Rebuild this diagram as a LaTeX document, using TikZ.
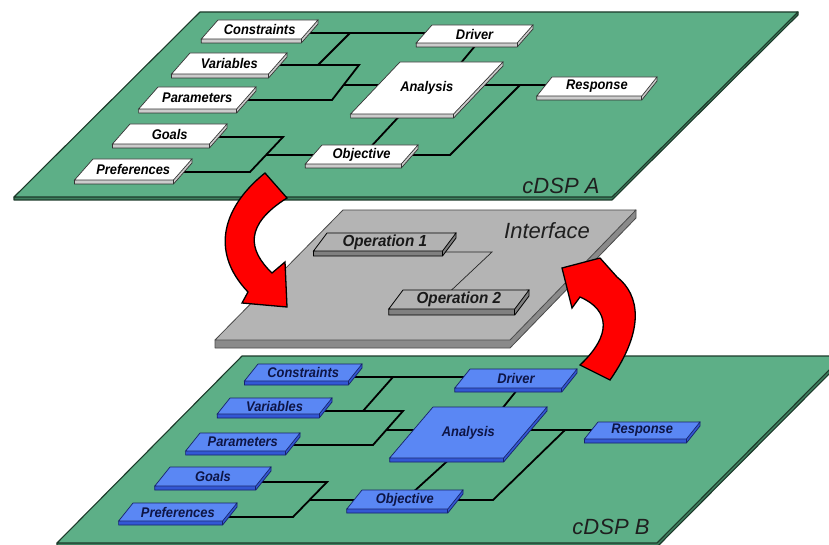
\documentclass[tikz,border=0pt]{standalone}
\usepackage{fontspec}
\newfontfamily\lab{Liberation Sans}
\usetikzlibrary{calc}
\pgfdeclarelayer{planes}
\pgfdeclarelayer{links}
\pgfdeclarelayer{front}
\pgfsetlayers{planes,links,main,front}

\definecolor{planetop}{HTML}{5DAF87}
\definecolor{planeside}{HTML}{3F7F5F}
\definecolor{planeedge}{HTML}{1C3A2A}
\definecolor{ifacetop}{HTML}{B4B4B4}
\definecolor{ifaceside}{HTML}{8A8A8A}
\definecolor{ifaceedge}{HTML}{4A4A4A}
\definecolor{bluetop}{HTML}{5A87F4}
\definecolor{blueside}{HTML}{3357D4}
\definecolor{blueedge}{HTML}{16226A}
\definecolor{bluetext}{HTML}{0E1545}

\tikzset{
  wbox top/.style={fill=white,draw=black!80,line width=0.7pt},
  wbox side/.style={fill=black!20,draw=black!80,line width=0.7pt},
  wbox text/.style={font=\lab\fontsize{14}{16}\selectfont\bfseries\itshape,text=black,xscale=0.92,inner sep=0pt},
  bbox top/.style={fill=bluetop,draw=blueedge,line width=0.7pt},
  bbox side/.style={fill=blueside,draw=blueedge,line width=0.7pt},
  bbox text/.style={font=\lab\fontsize{14}{16}\selectfont\bfseries\itshape,text=bluetext,xscale=0.92,inner sep=0pt},
  obox top/.style={fill=black!30,draw=black,line width=0.8pt},
  obox side/.style={fill=black!50,draw=black,line width=0.8pt},
  obox text/.style={font=\lab\fontsize{16}{18}\selectfont\bfseries\itshape,text=black!90,xscale=0.95,inner sep=0pt},
  plane top/.style={fill=planetop,draw=planeedge,line width=1.1pt,line join=round},
  plane side/.style={fill=planeside,draw=planeedge,line width=1.1pt,line join=round},
  iface top/.style={fill=ifacetop,draw=ifaceedge,line width=0.8pt,line join=round},
  iface side/.style={fill=ifaceside,draw=ifaceedge,line width=0.8pt,line join=round},
  plane label/.style={font=\lab\fontsize{22}{24}\selectfont\itshape,text=black!88,inner sep=0pt},
  link/.style={line width=1.8pt,black},
  thin link/.style={line width=0.7pt,black!85},
  bigarrow/.style={fill=red,draw=black,line width=1.3pt,line join=miter}
}

% slab-shaped box: name, kind, top-left x, top y, width, height, slope, label, thickness
\newcommand\slabbox[9]{%
  \pgfmathsetmacro\sbL{#3-#7*#6}%
  \pgfmathsetmacro\sbR{\sbL+#5}%
  \pgfmathsetmacro\sbB{#4+#6}%
  \pgfmathsetmacro\sbD{\sbB+#9}%
  \pgfmathsetmacro\sbE{#3+#5}%
  \pgfmathsetmacro\sbF{#4+#9}%
  \filldraw[#2 side] (\sbL,\sbB) -- (\sbL,\sbD) -- (\sbR,\sbD) -- (\sbE,\sbF) -- (\sbE,#4) -- cycle;
  \draw[#2 side] (\sbR,\sbB) -- (\sbR,\sbD);
  \filldraw[#2 top] (#3,#4) -- (\sbE,#4) -- (\sbR,\sbB) -- (\sbL,\sbB) -- cycle;
  \pgfmathsetmacro\sbX{#3+#5/2-#7*#6/2}%
  \pgfmathsetmacro\sbY{#4+#6/2}%
  \node[#2 text] (#1) at (\sbX,\sbY) {#8};
}

\begin{document}
\begin{tikzpicture}[x=1pt,y=-1pt]
\useasboundingbox (0,0) rectangle (829,545);

% ---------- the three planes ----------
\begin{pgfonlayer}{planes}
  % cDSP A
  \filldraw[plane side] (14,197) -- (14,200) -- (612,200) -- (798,15) -- (798,12) -- cycle;
  \filldraw[plane top] (200,12) -- (798,12) -- (612,197) -- (14,197) -- cycle;
  % Interface slab
  \filldraw[iface side] (215,340) -- (215,348) -- (510,348) -- (636,218) -- (636,210) -- cycle;
  \filldraw[iface top] (343,210) -- (636,210) -- (510,340) -- (215,340) -- cycle;
  % cDSP B
  \begin{scope}
    \clip (0,0) rectangle (829,545);
    \filldraw[plane side] (57,543) -- (57,547) -- (657,547) -- (843,360) -- (843,356) -- cycle;
    \filldraw[plane top] (242,356) -- (843,356) -- (657,543) -- (57,543) -- cycle;
  \end{scope}
\end{pgfonlayer}

\node[plane label] (lblA) at (561,186) {cDSP A};
\node[plane label] (lblI) at (547,231) {Interface};
\node[plane label] (lblB) at (611,527) {cDSP B};

% ---------- cDSP A boxes ----------
\slabbox{aCons}{wbox}{218}{20}{100}{19}{0.88}{Constraints}{4}
\slabbox{aVar}{wbox}{190}{53}{97}{21}{0.88}{Variables}{4}
\slabbox{aPar}{wbox}{158}{87}{98}{22}{0.88}{Parameters}{4}
\slabbox{aGoal}{wbox}{130}{124}{97}{20}{0.88}{Goals}{4}
\slabbox{aPref}{wbox}{93}{159}{99}{21}{0.88}{Preferences}{4}
\slabbox{aObj}{wbox}{322}{145}{96}{19}{0.88}{Objective}{4}
\slabbox{aDrv}{wbox}{432}{25}{101}{18}{0.88}{Driver}{4}
\slabbox{aAna}{wbox}{400}{62}{103}{52}{0.95}{Analysis}{4}
\slabbox{aResp}{wbox}{552}{77}{105}{19}{0.8}{Response}{4}

% ---------- Interface boxes ----------
\slabbox{op1}{obox}{327}{233}{129}{18}{0.75}{Operation 1}{5}
\slabbox{op2}{obox}{403}{290}{126}{19}{0.75}{Operation 2}{6}

% ---------- cDSP B boxes ----------
\slabbox{bCons}{bbox}{258}{364}{104}{17}{0.8}{Constraints}{4}
\slabbox{bVar}{bbox}{230}{398}{102}{16}{0.8}{Variables}{4}
\slabbox{bPar}{bbox}{200}{433}{100}{18}{0.8}{Parameters}{4}
\slabbox{bGoal}{bbox}{170}{467}{101}{19}{0.8}{Goals}{4}
\slabbox{bPref}{bbox}{133}{503}{104}{18}{0.8}{Preferences}{4}
\slabbox{bObj}{bbox}{362}{490}{101}{19}{0.8}{Objective}{4}
\slabbox{bAna}{bbox}{433}{407}{114}{51}{0.85}{Analysis}{4}
\slabbox{bDrv}{bbox}{470}{369}{107}{19}{0.8}{Driver}{4}
\slabbox{bResp}{bbox}{598}{422}{102}{17}{0.8}{Response}{4}

% ---------- junction points ----------
\coordinate (j1) at (350,33);
\coordinate (j2) at (318,65);
\coordinate (j3) at (359,65);
\coordinate (j4) at (332,100);
\coordinate (j6) at (283,137);
\coordinate (j7) at (250,172);
\coordinate (j9) at (480,40);
\coordinate (j10) at (455,70);
\coordinate (j11) at (520,85);
\coordinate (j12) at (450,155);
\coordinate (j13) at (405,110);
\coordinate (j14) at (366,152);

\coordinate (m1) at (492,252);
\coordinate (m2) at (441,300);

\coordinate (k1) at (393,377);
\coordinate (k2) at (363,411);
\coordinate (k3) at (403,411);
\coordinate (k4) at (373,445);
\coordinate (k6) at (327,482);
\coordinate (k7) at (293,517);
\coordinate (k9) at (565,430);
\coordinate (k10) at (493,500);
\coordinate (k11) at (521,385);
\coordinate (k12) at (497,415);
\coordinate (k13) at (454,455);
\coordinate (k14) at (410,495);

% ---------- connectors ----------
\begin{pgfonlayer}{links}
  % cDSP A
  \draw[link] (aCons.center |- j1) -- (aDrv.center |- j1);
  \draw[link] (j1) -- (j2);
  \draw[link] (aVar.center |- j3) -- (j3) -- (j4) -- (aPar.center |- j4);
  \coordinate (j5) at ($(j3)!0.571!(j4)$);
  \draw[link] (j5) -- (aAna.center |- j5);
  \draw[link] (aGoal.center |- j6) -- (j6) -- (j7) -- (aPref.center |- j7);
  \coordinate (j8) at ($(j6)!0.514!(j7)$);
  \draw[link] (j8) -- (aObj.center |- j8);
  \draw[link] (j9) -- (j10);
  \draw[link] (j13) -- (j14);
  \draw[link] (aAna.center |- j11) -- (aResp.center |- j11);
  \draw[link] (j11) -- (j12) -- (aObj.center |- j12);
  % Interface
  \draw[thin link] (op1.center |- m1) -- (m1) -- (m2);
  % cDSP B
  \draw[link] (bCons.center |- k1) -- (bDrv.center |- k1);
  \draw[link] (k1) -- (k2);
  \draw[link] (bVar.center |- k3) -- (k3) -- (k4) -- (bPar.center |- k4);
  \coordinate (k5) at ($(k3)!0.559!(k4)$);
  \draw[link] (k5) -- (bAna.center |- k5);
  \draw[link] (bGoal.center |- k6) -- (k6) -- (k7) -- (bPref.center |- k7);
  \coordinate (k8) at ($(k6)!0.514!(k7)$);
  \draw[link] (k8) -- (bObj.center |- k8);
  \draw[link] (k11) -- (k12);
  \draw[link] (k13) -- (k14);
  \draw[link] (bAna.center |- k9) -- (bResp.center |- k9);
  \draw[link] (k9) -- (k10) -- (bObj.center |- k10);
\end{pgfonlayer}

% ---------- exchange arrows ----------
\begin{pgfonlayer}{front}
  \filldraw[bigarrow] (265,173) .. controls (225,205) and (208,250) .. (248,292)
    -- (242,303) -- (287,307) -- (285,262) -- (272,273)
    .. controls (248,250) and (244,225) .. (287,198) -- cycle;
  \filldraw[bigarrow] (580,365) -- (610,380) .. controls (645,330) and (640,295) .. (617,277)
    -- (600,258) -- (562,268) -- (572,308) -- (580,297)
    .. controls (610,310) and (612,335) .. (580,365) -- cycle;
\end{pgfonlayer}
\end{tikzpicture}
\end{document}
